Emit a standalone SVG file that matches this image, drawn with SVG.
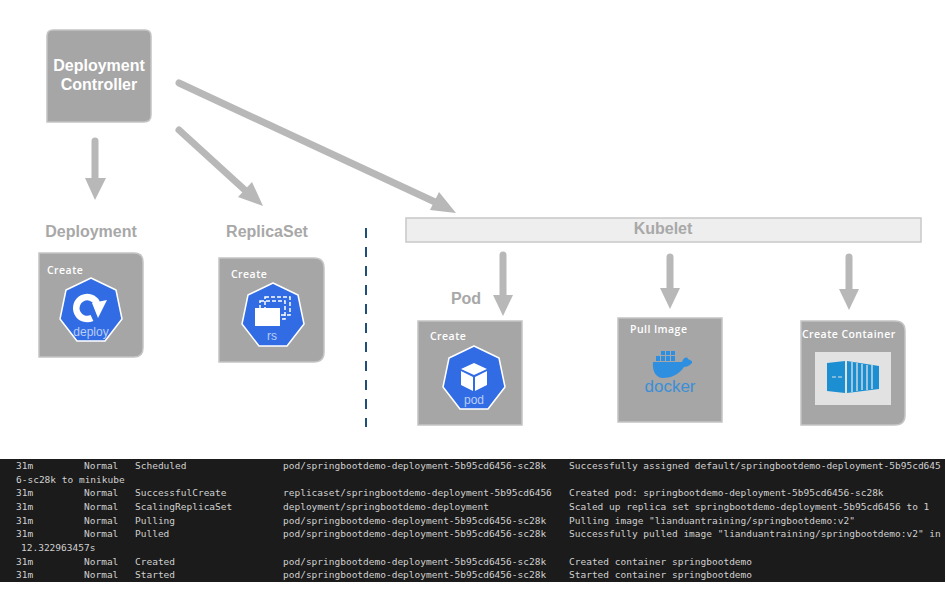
<svg xmlns="http://www.w3.org/2000/svg" width="946" height="613" viewBox="0 0 946 613">
<style>
.box{fill:#a6a6a6;stroke:#c4c4c4;stroke-width:1.5}
.t{font-family:"Liberation Sans",Arial,sans-serif;font-weight:bold;fill:#a8a8a8;font-size:16px;text-anchor:middle}
.w{font-family:"Open Sans","Noto Sans",sans-serif;font-weight:600;fill:#fff;font-size:10.5px;letter-spacing:.45px}
.hw{font-family:"Liberation Sans",Arial,sans-serif;font-weight:bold;fill:#fff;font-size:16px;text-anchor:middle}
.ic{font-family:"Liberation Sans",Arial,sans-serif;fill:#b9cdf5;font-size:12px;text-anchor:middle}
.c{stroke:#b8b8b8;stroke-width:7;stroke-linecap:round;fill:none}
.h{fill:#b8b8b8}
.m text{font-family:"DejaVu Sans Mono","Liberation Mono",monospace;font-size:9.5px;fill:#d0d0d0}
.hept{fill:#326ce5;stroke:#fff;stroke-width:1.5;stroke-linejoin:round}
.dash{fill:none;stroke:#fff;stroke-width:1.5;stroke-dasharray:4 2}
</style>
<defs>
<polygon id="hp" class="hept" points="0,-32 25,-20 31,9 14,31 -14,31 -31,9 -25,-20"/>
</defs>
<rect width="946" height="613" fill="#fff"/>
<g id="connectors">
<path class="c" d="M95 141V183"/><polygon class="h" points="85,178 106,178 95,200"/>
<path class="c" d="M179 130L247 192"/><polygon class="h" points="252,182 238,197 263,206"/>
<path class="c" d="M179 83L435 202"/><polygon class="h" points="439,192 430,210 456,213"/>
<path class="c" d="M503 255V298"/><polygon class="h" points="493,295 513,295 503,316"/>
<path class="c" d="M670 257V292"/><polygon class="h" points="660,288 680,288 670,309"/>
<path class="c" d="M849 257V293"/><polygon class="h" points="839,289 859,289 849,310"/>
<path d="M366 228V427" stroke="#1f4e79" stroke-width="2" stroke-dasharray="10 9" fill="none"/>
</g>
<g id="controller">
<path class="box" d="M53 30H145Q151 30 151 36V115Q151 122 144 122H47V36Q47 30 53 30Z"/>
<text class="hw" x="99" y="71">Deployment</text>
<text class="hw" x="99" y="90">Controller</text>
</g>
<g id="deployment">
<text class="t" x="91" y="237">Deployment</text>
<path class="box" d="M39 253H134Q143 253 143 262V348Q143 357 134 357H39Z"/>
<text class="w" x="47" y="274">Create</text>
<use href="#hp" x="91" y="310"/>
<path d="M97 303A11 11 0 1 0 92 318" fill="none" stroke="#fff" stroke-width="6.5"/>
<polygon points="92,303 107,300 98,318" fill="#fff"/>
<text class="ic" x="91" y="336">deploy</text>
</g>
<g id="replicaset">
<text class="t" x="267" y="237">ReplicaSet</text>
<path class="box" d="M219 258H314Q324 258 324 268V352Q324 362 314 362H219Z"/>
<text class="w" x="231" y="278">Create</text>
<use href="#hp" x="273" y="315"/>
<rect class="dash" x="265" y="297" width="25" height="18"/>
<rect class="dash" x="260" y="301" width="25" height="18"/>
<rect x="255" y="308" width="25" height="18" fill="#fff"/>
<text class="ic" x="272" y="340">rs</text>
</g>
<g id="kubelet">
<rect x="406" y="218" width="515" height="24" fill="#eeeeee" stroke="#c8c8c8" stroke-width="1.5"/>
<text class="t" x="663" y="234">Kubelet</text>
</g>
<g id="pod">
<text class="t" x="466" y="304">Pod</text>
<rect class="box" x="418" y="321" width="104" height="104"/>
<text class="w" x="430" y="340">Create</text>
<use href="#hp" x="474" y="378"/>
<polygon points="474,363 487,369 474,375 461,369" fill="#fff"/>
<polygon points="461,371 473,377 473,391 461,385" fill="#fff"/>
<polygon points="487,371 475,377 475,391 487,385" fill="#fff"/>
<text class="ic" x="474" y="404">pod</text>
</g>
<g id="pull-image">
<rect class="box" x="618" y="318" width="104" height="104"/>
<text class="w" x="630" y="333">Pull Image</text>
<path d="M653 362H682C683 358 687 356 688 359C690 360 693 361 692 363C689 366 686 367 684 367C679 375 670 378 663 378C656 378 652 371 653 362Z" fill="#2e8fe0"/>
<path d="M656 356h4v5h-4zM661 356h4v5h-4zM666 356h4v5h-4zM671 356h4v5h-4zM661 351h4v4h-4zM666 351h4v4h-4zM671 351h4v4h-4z" fill="#2e8fe0"/>
<text x="670" y="392" font-family="Liberation Sans,Arial,sans-serif" font-size="17" fill="#3a8fd8" text-anchor="middle">docker</text>
</g>
<g id="create-container">
<path class="box" d="M801 321H895Q905 321 905 331V415Q905 425 895 425H801Z"/>
<text class="w" x="802" y="338">Create Container</text>
<rect x="815" y="352" width="76" height="53" fill="#e2e2e2"/>
<path d="M827 363L845 361V393L827 391Z" fill="#1b8fd2"/>
<path d="M847 361L879 366V389L847 393Z" fill="#1b8fd2"/>
<path d="M852 362V392M857 363V391M862 364V390M867 365V390M872 365V389" stroke="#e2e2e2" stroke-width="1.3"/>
<path d="M832 377h4M838 377h4" stroke="#e2e2e2" stroke-width="1"/>
</g>
<g id="terminal">
<rect x="0" y="459" width="945" height="123" fill="#1b1b1b"/>
<g class="m">
<text x="16" y="469">31m</text><text x="84" y="469">Normal</text><text x="135" y="469">Scheduled</text><text x="283" y="469">pod/springbootdemo-deployment-5b95cd6456-sc28k</text><text x="569" y="469">Successfully assigned default/springbootdemo-deployment-5b95cd645</text>
<text x="16" y="483">6-sc28k to minikube</text>
<text x="16" y="496">31m</text><text x="84" y="496">Normal</text><text x="135" y="496">SuccessfulCreate</text><text x="283" y="496">replicaset/springbootdemo-deployment-5b95cd6456</text><text x="569" y="496">Created pod: springbootdemo-deployment-5b95cd6456-sc28k</text>
<text x="16" y="510">31m</text><text x="84" y="510">Normal</text><text x="135" y="510">ScalingReplicaSet</text><text x="283" y="510">deployment/springbootdemo-deployment</text><text x="569" y="510">Scaled up replica set springbootdemo-deployment-5b95cd6456 to 1</text>
<text x="16" y="524">31m</text><text x="84" y="524">Normal</text><text x="135" y="524">Pulling</text><text x="283" y="524">pod/springbootdemo-deployment-5b95cd6456-sc28k</text><text x="569" y="524">Pulling image "lianduantraining/springbootdemo:v2"</text>
<text x="16" y="537">31m</text><text x="84" y="537">Normal</text><text x="135" y="537">Pulled</text><text x="283" y="537">pod/springbootdemo-deployment-5b95cd6456-sc28k</text><text x="569" y="537">Successfully pulled image "lianduantraining/springbootdemo:v2" in</text>
<text x="21" y="551">12.322963457s</text>
<text x="16" y="565">31m</text><text x="84" y="565">Normal</text><text x="135" y="565">Created</text><text x="283" y="565">pod/springbootdemo-deployment-5b95cd6456-sc28k</text><text x="569" y="565">Created container springbootdemo</text>
<text x="16" y="578">31m</text><text x="84" y="578">Normal</text><text x="135" y="578">Started</text><text x="283" y="578">pod/springbootdemo-deployment-5b95cd6456-sc28k</text><text x="569" y="578">Started container springbootdemo</text>
</g>
</g>
</svg>
